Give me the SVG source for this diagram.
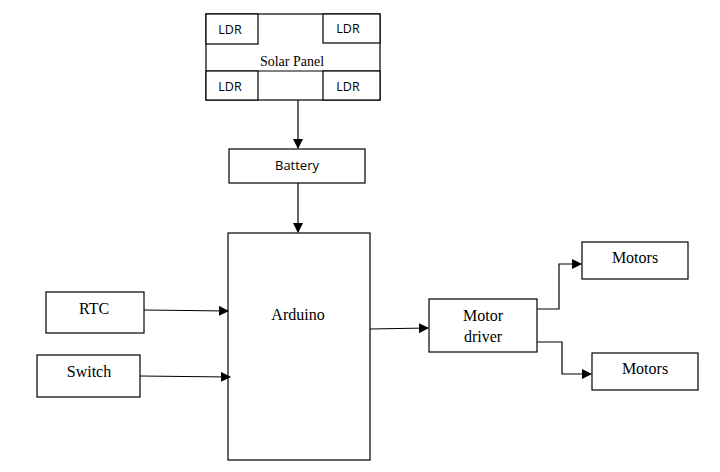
<svg xmlns="http://www.w3.org/2000/svg" width="720" height="472" viewBox="0 0 720 472">
<style>
.b{fill:#fff;stroke:#000;stroke-width:1.2}
.s{font-family:"Liberation Serif","DejaVu Serif","Noto Serif",serif;font-size:16px;text-anchor:middle;fill:#000}
.c{font-family:"Open Sans","DejaVu Sans",sans-serif;font-size:12.5px;text-anchor:middle;fill:#000}
.l{fill:none;stroke:#000;stroke-width:1.2}
</style>
<defs><marker id="a" markerWidth="10" markerHeight="10" refX="9" refY="5" orient="auto" markerUnits="userSpaceOnUse"><path d="M0,0L10,5L0,10z"/></marker></defs>
<rect width="720" height="472" fill="#fff"/>
<g id="solar">
<rect class="b" x="206" y="14" width="174" height="86"/>
<line class="l" x1="206" y1="71" x2="380" y2="71"/>
<rect class="b" x="206" y="14" width="52" height="30"/>
<rect class="b" x="323" y="14" width="57" height="29"/>
<rect class="b" x="206" y="71" width="52" height="29"/>
<rect class="b" x="323" y="71" width="57" height="29"/>
<text class="c" x="230" y="34">LDR</text><text class="c" x="348" y="33">LDR</text>
<text class="c" x="230" y="91">LDR</text><text class="c" x="348" y="91">LDR</text>
<text class="s" x="292" y="66" style="font-size:14px">Solar Panel</text>
</g>
<g id="battery"><rect class="b" x="229" y="149" width="136" height="34"/><text class="c" x="297" y="170" style="font-size:13px">Battery</text></g>
<g id="arduino"><rect class="b" x="228" y="233" width="142" height="227"/><text class="s" x="298" y="320">Arduino</text></g>
<g id="rtc"><rect class="b" x="46" y="292" width="98" height="41"/><text class="s" x="94" y="314">RTC</text></g>
<g id="switch"><rect class="b" x="37" y="355" width="103" height="42"/><text class="s" x="89" y="377">Switch</text></g>
<g id="driver"><rect class="b" x="429" y="299" width="108" height="53"/><text class="s" x="483" y="321">Motor</text><text class="s" x="483" y="342">driver</text></g>
<g id="motors1"><rect class="b" x="582" y="242" width="106" height="37"/><text class="s" x="635" y="263">Motors</text></g>
<g id="motors2"><rect class="b" x="592" y="353" width="106" height="37"/><text class="s" x="645" y="374">Motors</text></g>
<g id="connectors" class="l">
<path class="l" d="M298,100V148" marker-end="url(#a)"/>
<path class="l" d="M298,183V232" marker-end="url(#a)"/>
<path class="l" d="M144,310L228,311" marker-end="url(#a)"/>
<path class="l" d="M140,376L230,377" marker-end="url(#a)"/>
<path class="l" d="M370,329L428,328" marker-end="url(#a)"/>
<path class="l" d="M537,309H559V264H581" marker-end="url(#a)"/>
<path class="l" d="M537,342H562V374H591" marker-end="url(#a)"/>
</g>
</svg>
